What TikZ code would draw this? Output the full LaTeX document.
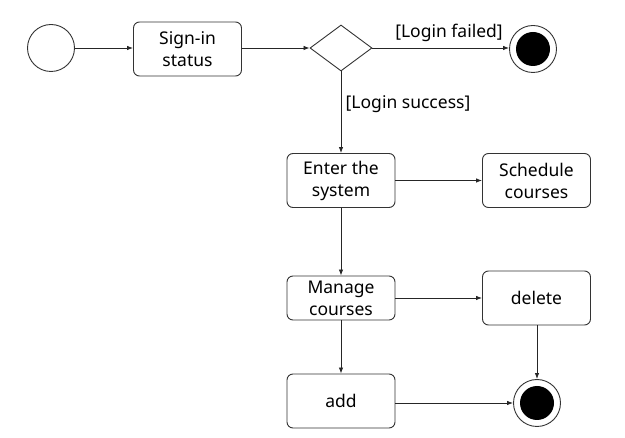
\documentclass[tikz,border=0pt]{standalone}
\usepackage{fontspec}
\setmainfont{Noto Sans}
\usetikzlibrary{shapes.geometric,arrows.meta}
\begin{document}
\begin{tikzpicture}[x=1pt,y=-1pt,
  act/.style={draw=black!80,line width=0.9pt,rounded corners=6pt,minimum width=108pt,minimum height=54pt,align=center,inner sep=1pt,font=\fontsize{17.5}{22}\selectfont},
  flow/.style={draw=black!85,line width=0.8pt,-{Latex[length=6pt,width=4.5pt]}},
  lbl/.style={font=\fontsize{17.5}{22}\selectfont,inner sep=0pt}]
\useasboundingbox (0,0) rectangle (625,438);
\node[circle,draw=black!80,line width=0.9pt,minimum size=47pt,inner sep=0pt] (start) at (51,48) {};
\node[act] (sign) at (187.5,49) {Sign-in\\status};
\node[diamond,draw=black!80,line width=0.9pt,minimum width=62pt,minimum height=46pt,inner sep=0pt] (dec) at (341,48) {};
\node[circle,draw=black!80,line width=0.9pt,minimum size=47pt,inner sep=0pt] (end1) at (533,49) {};
\node[circle,fill=black,minimum size=34pt,inner sep=0pt] (end1in) at (533,49) {};
\node[act] (enter) at (341,180.5) {Enter the\\system};
\node[act] (sched) at (536.5,180.5) {Schedule\\courses};
\node[act,minimum height=44pt] (manage) at (341,298) {Manage\\courses};
\node[act] (del) at (536.5,298) {delete};
\node[act] (add) at (341,401) {add};
\node[circle,draw=black!80,line width=0.9pt,minimum size=47pt,inner sep=0pt] (end2) at (537,403) {};
\node[circle,fill=black,minimum size=34pt,inner sep=0pt] (end2in) at (537,403) {};
\draw[flow] (start) -- (sign.west |- start);
\draw[flow] (sign.east |- dec) -- (dec.west);
\draw[flow] (dec.east) -- (end1.west |- dec);
\draw[flow] (dec.south) -- (enter.north);
\draw[flow] (enter) -- (sched);
\draw[flow] (enter) -- (manage);
\draw[flow] (manage) -- (del);
\draw[flow] (manage) -- (add);
\draw[flow] (del.south -| end2) -- (end2.north);
\draw[flow] (add.east |- end2) -- (end2.west);
\node[lbl] (lf) at (449,33) {[Login failed]};
\node[lbl] (ls) at (408,104) {[Login success]};
\end{tikzpicture}
\end{document}
